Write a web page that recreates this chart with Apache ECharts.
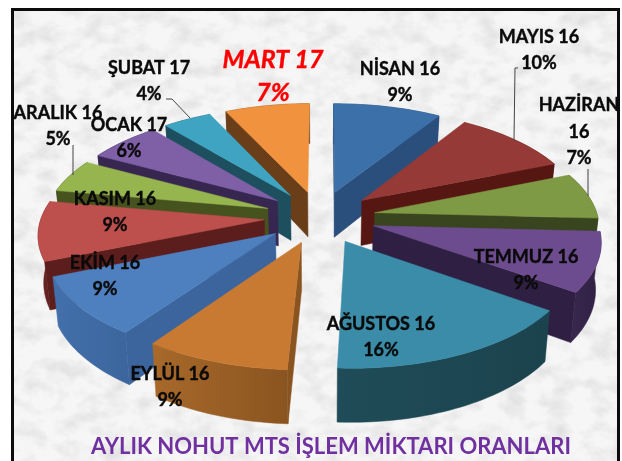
<!DOCTYPE html>
<html><head><meta charset="utf-8">
<style>
html,body{margin:0;padding:0;background:#fff;width:622px;height:461px;overflow:hidden}
#frame{position:absolute;left:11px;top:8px;width:609px;height:453px;box-sizing:border-box;border:3px solid #0c0c0c;border-bottom:none;background-color:#f1f1f1;
background-image:url("data:image/svg+xml;utf8,<svg xmlns='http://www.w3.org/2000/svg' width='609' height='453'><filter id='n'><feTurbulence type='fractalNoise' baseFrequency='0.045 0.06' numOctaves='5' seed='11'/><feColorMatrix values='0 0 0 0 0.72  0 0 0 0 0.72  0 0 0 0 0.72  1.7 0 0 0 -0.68'/></filter><rect width='609' height='453' fill='%23f6f6f6'/><rect width='609' height='453' filter='url(%23n)'/></svg>")}
#c{position:absolute;left:0;top:0;width:622px;height:461px}
</style>
<script src="https://cdn.jsdelivr.net/npm/echarts@6/dist/echarts.min.js"></script>
</head><body><div id="frame"></div><div id="c"></div>
<script>
// ---- data ----
const categories = ['NİSAN 16','MAYIS 16','HAZİRAN 16','TEMMUZ 16','AĞUSTOS 16','EYLÜL 16','EKİM 16','KASIM 16','ARALIK 16','OCAK 17','ŞUBAT 17','MART 17'];
const shares = [9,10,7,9,16,9,9,9,5,6,4,7];
const chartTitle = 'AYLIK NOHUT MTS İŞLEM MİKTARI ORANLARI';

// ---- styles ----
const topColors  = ['#3c70a8','#953a37','#7e9a44','#6c4c8e','#3a8ca8','#c97a32','#4e80bf','#bd4f4c','#96b54f','#7f60a6','#3ea4c2','#f0923e'];
const sideColors = ['#2b4f7c','#561612','#39451f','#2f1f42','#1b434e','#8a5420','#3b659c','#5c1e1c','#46531f','#37264f','#1d4f5e','#6b3e1a'];
const rimLight   = ['#2b4f7c','#561612','#3f4c22','#3a284f','#1f4c58','#a8692a','#4370ab','#6b2422','#46531f','#37264f','#1d4f5e','#6b3e1a'];

// ---- 3D projection of the pie ----
const CX = 320, CY = 217, RX = 223, RY = 105, PERSP = 0.122, EXPLODE = 0.25, DEPTH = 46, BOTTOM_SHRINK = 0.98, START_ANGLE = -0.6, BOW = 1.7;
const total = shares.reduce((a, b) => a + b, 0);
const rad = d => d * Math.PI / 180;
const starts = []; { let acc = 0; shares.forEach(v => { starts.push(START_ANGLE + acc / total * 360); acc += v; }); }
function project(x, y, low) {
  const p = 1 / (1 - PERSP * y);
  const f = low ? BOTTOM_SHRINK : 1;
  return [CX + BOW * y * y + RX * x * p * f, CY + RY * y * p + (low ? DEPTH * p : 0)];
}
function sliceFaces(i) {
  const a = starts[i], b = a + shares[i] / total * 360, mid = (a + b) / 2;
  const ox = EXPLODE * Math.sin(rad(mid)), oy = -EXPLODE * Math.cos(rad(mid));
  const arc = [];
  for (let d = a; d < b; d += 1.5) arc.push([ox + Math.sin(rad(d)), oy - Math.cos(rad(d))]);
  arc.push([ox + Math.sin(rad(b)), oy - Math.cos(rad(b))]);
  const topArc = arc.map(q => project(q[0], q[1], false));
  const lowArc = arc.map(q => project(q[0], q[1], true));
  const apexT = project(ox, oy, false), apexL = project(ox, oy, true);
  return { a, b, mid, topArc, lowArc, apexT, apexL };
}
const drawOrder = shares.map((_, i) => i).sort((p, q) => {
  const mp = starts[p] + shares[p] / total * 180, mq = starts[q] + shares[q] / total * 180;
  return Math.cos(rad(mq)) - Math.cos(rad(mp));
});

function renderSlice(params, api) {
  const i = drawOrder[params.dataIndex];
  const f = sliceFaces(i);
  const poly = (pts, fill, extra) => ({ type: 'polygon', shape: { points: pts }, style: Object.assign({ fill, stroke: fill, lineWidth: 0.5 }, extra || {}) });
  const n = f.topArc.length - 1;
  const children = [];
  children.push(poly(f.topArc.concat(f.lowArc.slice().reverse()), new echarts.graphic.LinearGradient(0, 0, 1, 0, [
    { offset: 0, color: rimLight[i] }, { offset: 1, color: sideColors[i] }])));
  if (Math.sin(rad(f.a)) < 0) children.push(poly([f.apexT, f.topArc[0], f.lowArc[0], f.apexL], sideColors[i]));
  if (Math.sin(rad(f.b)) > 0) children.push(poly([f.apexT, f.topArc[n], f.lowArc[n], f.apexL], sideColors[i]));
  children.push(poly([f.apexT].concat(f.topArc), topColors[i]));
  return { type: 'group', children };
}

// ---- text placement ----
const labelCenters = [[400,82],[539,50],[579,132],[526,270],[381,337],[170,387],[105,276],[115,212],[58,126],[129,138],[149,81],[273,76]];
const leaderLines = [
  [[518,68],[515,68],[514,140]],
  [[166,99],[172,99],[190,118]],
  [[73,145],[73,175]],
  [[588,169],[588,196]]
];
const FONT = 'Lato, Carlito, "Open Sans", sans-serif';
const labelGraphics = categories.map((c, i) => {
  const wrapped = c === 'HAZİRAN 16' ? c.replace(' ', '\n') : c;
  const highlight = c === 'MART 17';
  return {
    type: 'text', x: labelCenters[i][0], y: labelCenters[i][1], z: 20,
    style: {
      text: wrapped + '\n' + shares[i] + '%', align: 'center', verticalAlign: 'middle',
      font: (highlight ? 'italic bold 25px ' : 'bold 18px ') + FONT,
      lineHeight: highlight ? 33 : 26.5,
      fill: highlight ? '#ff0000' : '#0a0a0a',
      stroke: highlight ? '#ff0000' : '#0a0a0a', lineWidth: 0.4
    }
  };
});
const lineGraphics = leaderLines.map(pts => ({
  type: 'polyline', z: 19, shape: { points: pts }, style: { stroke: '#444', lineWidth: 1, fill: null }
}));

const chart = echarts.init(document.getElementById('c'), null, { width: 622, height: 461 });
chart.setOption({
  backgroundColor: 'transparent',
  animation: false,
  title: { text: chartTitle, left: 326, top: 431, textAlign: 'center',
    textStyle: { color: '#7030a0', fontFamily: FONT, fontWeight: 'bold', fontSize: 22 } },
  graphic: labelGraphics.concat(lineGraphics),
  series: [{
    type: 'custom', coordinateSystem: 'none', renderItem: renderSlice, silent: true,
    data: drawOrder.map(i => ({ name: categories[i], value: shares[i] }))
  }]
});
</script></body></html>
